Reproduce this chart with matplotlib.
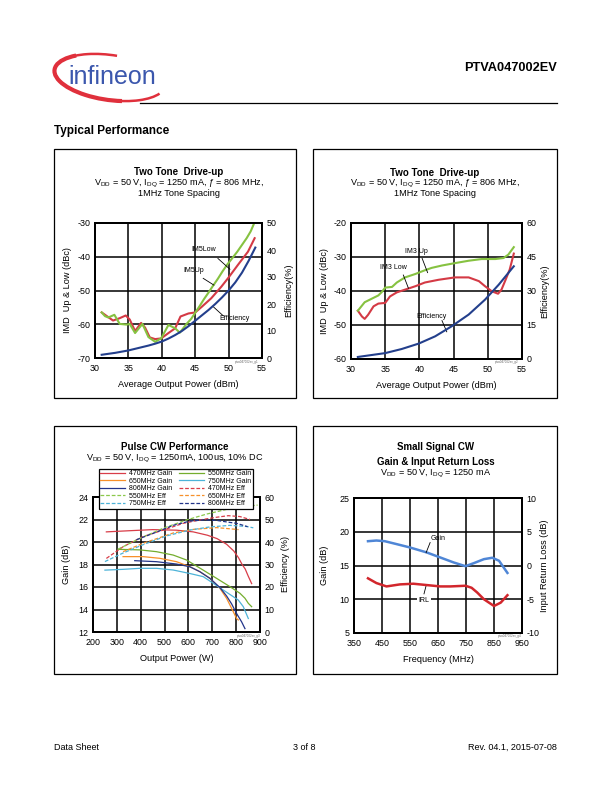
import matplotlib
matplotlib.use("Agg")
import matplotlib.pyplot as plt
from matplotlib.patches import Rectangle, Arc

plt.rcParams['font.family'] = ['Liberation Sans', 'DejaVu Sans']
plt.rcParams['mathtext.fontset'] = 'custom'
plt.rcParams['mathtext.rm'] = 'Liberation Sans'
plt.rcParams['mathtext.it'] = 'Liberation Sans:italic'
plt.rcParams['axes.unicode_minus'] = False

W, H = 612.0, 792.0

# ---- chart 1 : two tone drive-up (IM5) ----
c1_up_x = [31, 31.5, 32, 32.9, 33.7, 34.7, 35.2, 36.0, 37.1, 38.0, 39.0, 39.9, 41.0, 42.0, 42.7,
           43.7, 44.4, 45.1, 45.7, 46.3, 47.0, 47.6, 48.4, 49.1, 49.8, 50.6, 51.3, 52.0, 52.7, 53.3, 53.8]
c1_up_y = [-56.5, -57.6, -58.0, -57.2, -59.9, -60.1, -59.9, -62.6, -59.9, -63.8, -65.2, -64.2, -60.2,
           -61.2, -62.5, -59.9, -58.4, -56.3, -54.5, -52.6, -50.6, -48.8, -46.5, -44.3, -42.3, -40.3,
           -38.5, -36.5, -34.5, -32.5, -30.2]
c1_low_x = [31, 31.5, 32.7, 33.7, 34.6, 35.2, 36.0, 36.9, 37.5, 38.2, 39.0, 39.9, 41.0, 42.0, 42.8,
            44.0, 45.0, 46.0, 47.4, 48.9, 49.9, 51.4, 52.9, 53.9]
c1_low_y = [-56.5, -57.2, -58.9, -58.2, -57.4, -58.6, -62.0, -59.6, -61.0, -63.9, -64.4, -64.2, -62.6,
            -61.2, -57.7, -56.8, -56.5, -54.8, -52.3, -48.9, -46.4, -42.4, -38.5, -34.5]
c1_eff_x = [31, 33, 35, 37, 38, 39, 40, 41, 42, 43, 44, 45, 46, 47, 48, 49, 50, 51, 52, 53, 54]
c1_eff_y = [1.2, 1.9, 2.8, 4.0, 4.6, 5.3, 6.1, 7.2, 8.5, 10.0, 11.8, 13.8, 15.8, 17.8, 20.0, 22.4,
            25.0, 28.0, 31.6, 36.0, 40.9]

# ---- chart 2 : two tone drive-up (IM3) ----
c2_up_x = [31, 31.6, 32, 33, 34, 34.5, 35, 36, 36.7, 37.9, 39.4, 40.8, 41.8, 43.3, 45.2, 47.2,
           49.1, 51.1, 52.3, 53.0, 53.8]
c2_up_y = [-45.8, -44.3, -43.3, -42.3, -41.3, -40.3, -39.0, -38.8, -37.5, -36.0, -35.0, -33.9,
           -33.2, -32.5, -31.8, -31.1, -30.6, -30.6, -30.3, -29.3, -27.1]
c2_low_x = [31, 31.6, 32, 32.5, 33.3, 34, 35, 35.7, 36.7, 37.9, 39.4, 40.8, 42.8, 45.2, 47.2, 48.7,
            49.6, 50.6, 51.5, 52.0, 52.6, 53.2, 53.8]
c2_low_y = [-45.8, -47.5, -48.2, -47.0, -44.5, -43.7, -43.5, -41.6, -40.4, -39.6, -38.6, -37.5,
            -36.7, -36.0, -36.0, -37.1, -38.6, -40.1, -40.8, -39.6, -36.7, -33.7, -29.0]
c2_eff_x = [31, 35, 37.4, 39.9, 42.3, 44.7, 47.2, 49.6, 51.6, 53.8]
c2_eff_y = [0.9, 2.6, 4.4, 6.8, 10.0, 14.4, 19.6, 26.2, 32.8, 40.9]

# ---- chart 3 : pulse CW ----
g470_x = [256, 350, 450, 550, 620, 680, 720, 760, 790, 810, 825, 838, 850, 865]
g470_y = [20.9, 21.0, 21.1, 21.05, 20.9, 20.6, 20.3, 19.8, 19.2, 18.6, 18.0, 17.6, 17.0, 16.3]
g550_x = [305, 396, 466, 536, 592, 620, 662, 718, 774, 816, 837, 851, 865]
g550_y = [19.35, 19.3, 19.14, 18.84, 18.4, 18.04, 17.5, 16.77, 16.03, 15.44, 15.0, 14.55, 14.25]
g650_x = [326, 410, 480, 550, 606, 648, 690, 732, 760, 781, 802, 809]
g650_y = [18.7, 18.7, 18.55, 18.25, 17.8, 17.36, 16.77, 15.88, 14.99, 14.1, 13.2, 13.07]
g750_x = [250, 326, 396, 466, 536, 606, 662, 704, 746, 788, 809, 830, 851]
g750_y = [17.5, 17.57, 17.66, 17.66, 17.51, 17.2, 16.92, 16.33, 15.73, 15.14, 14.84, 14.25, 13.2]
g806_x = [375, 466, 550, 606, 648, 690, 732, 760, 781, 802, 823, 837]
g806_y = [18.34, 18.25, 18.04, 17.8, 17.36, 16.77, 15.95, 15.2, 14.5, 13.64, 12.9, 12.3]
e470_x = [256, 326, 410, 494, 578, 648, 718, 767, 816, 858]
e470_y = [32.7, 37.9, 42.4, 45.3, 48.3, 49.8, 51.0, 51.7, 51.3, 50.0]
e550_x = [305, 396, 494, 592, 676, 760, 830, 890]
e550_y = [36.8, 41.6, 46.1, 49.8, 52.4, 54.5, 55.7, 56.4]
e650_x = [326, 410, 536, 620, 718, 802, 810]
e650_y = [35.7, 39.4, 44.0, 45.6, 46.4, 45.6, 45.5]
e750_x = [250, 326, 410, 508, 606, 690, 774, 844, 872]
e750_y = [31.3, 35.1, 38.8, 42.7, 45.3, 46.7, 47.4, 46.9, 46.3]
e806_x = [382, 466, 536, 606, 662, 718, 774, 802, 848]
e806_y = [41.0, 44.4, 47.4, 49.3, 49.8, 49.6, 48.7, 48.3, 46.8]

# ---- chart 4 : small signal ----
ss_f = [400, 430, 460, 502, 550, 610, 658, 706, 748, 778, 814, 844, 868, 898]
ss_gain = [18.6, 18.7, 18.6, 18.17, 17.67, 16.93, 16.19, 15.45, 14.9, 15.35, 15.94, 16.15, 15.7, 13.9]
irl_f = [400, 430, 466, 514, 562, 610, 658, 694, 748, 770, 790, 814, 850, 874, 898]
irl_db = [-1.9, -2.6, -3.1, -2.8, -2.7, -2.9, -3.1, -3.1, -3.0, -3.3, -4.0, -5.0, -6.0, -5.5, -4.4]

fig = plt.figure(figsize=(W / 100, H / 100), dpi=100)

# page background in pixel coords
bg = fig.add_axes([0, 0, 1, 1], zorder=-1)
bg.set_xlim(0, W)
bg.set_ylim(H, 0)
bg.axis('off')

# logo
bg.add_patch(Arc((110, 77.5), 112, 45, angle=8, theta1=10, theta2=280, color='#e0303c', lw=1.8))
bg.add_patch(Arc((110, 77.5), 112, 45, angle=8, theta1=55, theta2=205, color='#e0303c', lw=3.0))
bg.text(68, 83.5, "infineon", fontsize=18, color='#3b57ad', va='baseline', ha='left')

bg.text(557, 68, "PTVA047002EV", fontsize=9.2, weight='bold', ha='right', va='center')
bg.plot([140, 557], [103.3, 103.3], color='k', lw=0.9)
bg.text(54, 131, "Typical Performance", fontsize=8.5, weight='bold', ha='left', va='center')

for (x0, y0, x1, y1) in [(54, 149, 296, 398), (313, 149, 557, 398),
                         (54, 426, 296, 674), (313, 426, 557, 674)]:
    bg.add_patch(Rectangle((x0, y0), x1 - x0, y1 - y0, fill=False, ec='k', lw=0.9))

bg.text(54, 747, "Data Sheet", fontsize=6.5, ha='left', va='center')
bg.text(304, 747, "3 of 8", fontsize=6.5, ha='center', va='center')
bg.text(557, 747, "Rev. 04.1, 2015-07-08", fontsize=6.5, ha='right', va='center')

sub1 = r"V$_{\mathrm{DD}}$ = 50 V, I$_{\mathrm{DQ}}$ = 1250 mA, ƒ = 806 MHz,"
bg.text(179, 172, "Two Tone  Drive-up", fontsize=7, weight='bold', ha='center', va='center')
bg.text(179, 183.5, sub1, fontsize=6.6, ha='center', va='center')
bg.text(179, 193, "1MHz Tone Spacing", fontsize=6.6, ha='center', va='center')
bg.text(435, 172.5, "Two Tone  Drive-up", fontsize=7, weight='bold', ha='center', va='center')
bg.text(435, 183.5, sub1, fontsize=6.6, ha='center', va='center')
bg.text(435, 193.5, "1MHz Tone Spacing", fontsize=6.6, ha='center', va='center')
bg.text(175, 446.5, "Pulse CW Performance", fontsize=7, weight='bold', ha='center', va='center')
bg.text(175, 458, r"V$_{\mathrm{DD}}$ = 50 V, I$_{\mathrm{DQ}}$ = 1250mA, 100us, 10% DC",
        fontsize=6.6, ha='center', va='center')
bg.text(435.5, 446.5, "Small Signal CW", fontsize=7, weight='bold', ha='center', va='center')
bg.text(435.5, 462, "Gain & Input Return Loss", fontsize=7, weight='bold', ha='center', va='center')
bg.text(435.5, 473.5, r"V$_{\mathrm{DD}}$ = 50 V, I$_{\mathrm{DQ}}$ = 1250 mA",
        fontsize=6.6, ha='center', va='center')


def add_ax(x0, y0, x1, y1):
    return fig.add_axes([x0 / W, 1 - y1 / H, (x1 - x0) / W, (y1 - y0) / H])


def style(ax, ax2, xlim, xticks, ylim, yticks, y2lim, y2ticks, xlabel, ylabel, y2label, lx, rx):
    ax.set_xlim(xlim)
    ax.set_ylim(ylim)
    ax.set_xticks(xticks)
    ax.set_yticks(yticks)
    ax2.set_ylim(y2lim)
    ax2.set_yticks(y2ticks)
    ax.grid(True, color='k', lw=1.1)
    for a in (ax, ax2):
        a.tick_params(length=0, labelsize=6.4, pad=3.2)
        for s in a.spines.values():
            s.set_linewidth(1.4)
    ax.tick_params(axis='x', pad=4)
    ax.set_xlabel(xlabel, fontsize=6.6)
    ax.xaxis.set_label_coords(0.5, -0.165)
    ax.set_ylabel(ylabel, fontsize=6.6)
    ax.yaxis.set_label_coords(lx, 0.5)
    ax2.set_ylabel(y2label, fontsize=6.6)
    ax2.yaxis.set_label_coords(rx, 0.5)


NOTE = 5.0
GREEN = '#86c241'
RED = '#d43a45'
NAVY = '#233f8c'

# chart 1
ax1 = add_ax(95, 223, 262, 358)
ax1b = ax1.twinx()
style(ax1, ax1b, (30, 55), range(30, 56, 5), (-70, -30), range(-70, -29, 10),
      (0, 50), range(0, 51, 10), "Average Output Power (dBm)", "IMD  Up & Low (dBc)",
      "Efficiency(%)", -0.135, 1.132)
ax1.plot(c1_low_x, c1_low_y, color=RED, lw=1.5)
ax1.plot(c1_up_x, c1_up_y, color=GREEN, lw=1.5)
ax1b.plot(c1_eff_x, c1_eff_y, color=NAVY, lw=1.5)
ax1.text(46.2, -37.8, "IM5Low", fontsize=NOTE, ha='center', va='center')
ax1.plot([48.4, 50.2], [-40.5, -43.7], color='k', lw=0.6)
ax1.text(44.8, -44.2, "IM5Up", fontsize=NOTE, ha='center', va='center')
ax1.plot([46.2, 47.8], [-46.4, -48.4], color='k', lw=0.6)
ax1.text(48.6, -58.2, "Efficiency", fontsize=NOTE, ha='left', va='center')
ax1.plot([47.7, 49.2], [-54.8, -57.5], color='k', lw=0.6)
ax1.text(54.5, -71.2, "ptva047002ev_g1", fontsize=2.2, color='0.4', ha='right', va='center',
         clip_on=False)

# chart 2
ax2 = add_ax(351, 223, 522, 359)
ax2b = ax2.twinx()
style(ax2, ax2b, (30, 55), range(30, 56, 5), (-60, -20), range(-60, -19, 10),
      (0, 60), range(0, 61, 15), "Average Output Power (dBm)", "IMD  Up & Low (dBc)",
      "Efficiency(%)", -0.13, 1.105)
ax2.plot(c2_low_x, c2_low_y, color=RED, lw=1.5)
ax2.plot(c2_up_x, c2_up_y, color=GREEN, lw=1.5)
ax2b.plot(c2_eff_x, c2_eff_y, color=NAVY, lw=1.5)
ax2.text(39.5, -28.4, "IM3 Up", fontsize=NOTE, ha='center', va='center')
ax2.plot([40.4, 41.2], [-30.4, -34.6], color='k', lw=0.6)
ax2.text(36.2, -33.0, "IM3 Low", fontsize=NOTE, ha='center', va='center')
ax2.plot([37.65, 38.4], [-35.3, -39.2], color='k', lw=0.6)
ax2.text(41.7, -47.6, "Efficiency", fontsize=NOTE, ha='center', va='center')
ax2.plot([43.3, 44.0], [-48.7, -52.0], color='k', lw=0.6)
ax2.text(54.5, -61.0, "ptva047002ev_g2", fontsize=2.2, color='0.4', ha='right', va='center',
         clip_on=False)

# chart 3
ax3 = add_ax(93, 497, 260, 632)
ax3b = ax3.twinx()
style(ax3, ax3b, (200, 900), range(200, 901, 100), (12, 24), range(12, 25, 2),
      (0, 60), range(0, 61, 10), "Output Power (W)", "Gain (dB)", "Efficiency (%)",
      -0.132, 1.126)
C470, C550, C650, C750, C806 = '#d83d48', '#74ad2e', '#f7902a', '#4db3d8', '#22348a'
h = {}
h['g470'], = ax3.plot(g470_x, g470_y, color=C470, lw=0.9, label="470MHz Gain")
h['g550'], = ax3.plot(g550_x, g550_y, color=C550, lw=0.9, label="550MHz Gain")
h['g650'], = ax3.plot(g650_x, g650_y, color=C650, lw=0.9, label="650MHz Gain")
h['g750'], = ax3.plot(g750_x, g750_y, color=C750, lw=0.9, label="750MHz Gain")
h['g806'], = ax3.plot(g806_x, g806_y, color=C806, lw=0.9, label="806MHz Gain")
h['e470'], = ax3b.plot(e470_x, e470_y, color=C470, lw=0.9, ls=(0, (3, 1.5)), label="470MHz Eff")
h['e550'], = ax3b.plot(e550_x, e550_y, color='#8cc84b', lw=0.9, ls=(0, (3, 1.5)), label="550MHz Eff")
h['e650'], = ax3b.plot(e650_x, e650_y, color=C650, lw=0.9, ls=(0, (3, 1.5)), label="650MHz Eff")
h['e750'], = ax3b.plot(e750_x, e750_y, color=C750, lw=0.9, ls=(0, (3, 1.5)), label="750MHz Eff")
h['e806'], = ax3b.plot(e806_x, e806_y, color=C806, lw=0.9, ls=(0, (3, 1.5)), label="806MHz Eff")
order = ['g470', 'g650', 'g806', 'e550', 'e750', 'g550', 'g750', 'e470', 'e650', 'e806']
leg = ax3b.legend([h[k] for k in order], [h[k].get_label() for k in order], ncol=2,
                  loc='upper left', bbox_to_anchor=(98.5 / W, 1 - 468.5 / H),
                  bbox_transform=fig.transFigure, fontsize=5, frameon=True, fancybox=False,
                  handlelength=3.6, handletextpad=0.6, columnspacing=0.9, labelspacing=0.08,
                  borderpad=0.25, borderaxespad=0)
leg.get_frame().set_edgecolor('k')
leg.get_frame().set_linewidth(0.9)
leg.get_frame().set_alpha(1)
ax3.text(900, 11.6, "ptva047002ev_g3", fontsize=2.2, color='0.4', ha='right', va='center',
         clip_on=False)

# chart 4
ax4 = add_ax(354, 498, 522, 633)
ax4b = ax4.twinx()
style(ax4, ax4b, (350, 950), range(350, 951, 100), (5, 25), range(5, 26, 5),
      (-10, 10), range(-10, 11, 5), "Frequency (MHz)", "Gain (dB)", "Input Return Loss (dB)",
      -0.149, 1.107)
ax4.plot(ss_f, ss_gain, color='#4f86d6', lw=1.8)
ax4b.plot(irl_f, irl_db, color='#d2262c', lw=1.8)
ax4.text(650.7, 19.0, "Gain", fontsize=NOTE, ha='center', va='center')
ax4.plot([621.9, 607.5], [18.4, 16.9], color='k', lw=0.6)
ax4.text(600, 9.85, "IRL", fontsize=NOTE, ha='center', va='center',
         bbox=dict(facecolor='white', edgecolor='none', pad=1.2), zorder=5)
ax4.plot([607.5, 600], [12.0, 10.8], color='k', lw=0.6)
ax4.text(950, 4.6, "ptva047002ev_g4", fontsize=2.2, color='0.4', ha='right', va='center',
         clip_on=False)

fig.savefig("out.png", dpi=100)
